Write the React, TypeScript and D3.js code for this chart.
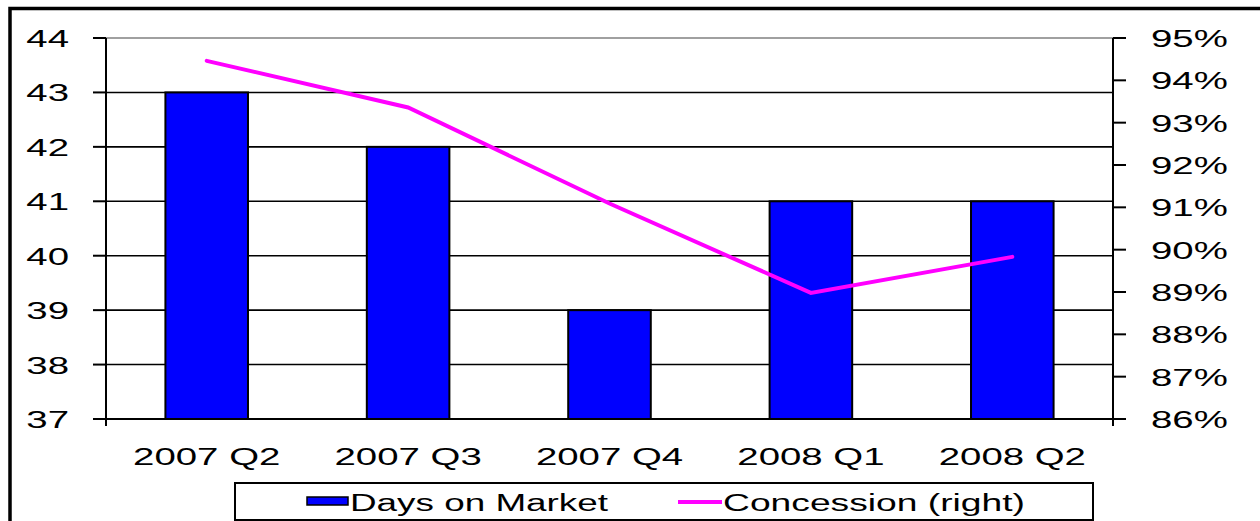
import React, { useEffect, useRef } from 'react'
import * as d3 from 'd3'

const quarters = ['2007 Q2', '2007 Q3', '2007 Q4', '2008 Q1', '2008 Q2']
const daysOnMarket = [43, 42, 39, 41, 41]
const concession = [94.46, 93.36, 91.09, 88.98, 89.83]
const leftTicks = [37, 38, 39, 40, 41, 42, 43, 44]
const rightTicks = [86, 87, 88, 89, 90, 91, 92, 93, 94, 95]
const legendLabels = ['Days on Market', 'Concession (right)']

const FONT = '"Liberation Sans", Arial, sans-serif'
const STRETCH = 1.6

export default function App() {
  const ref = useRef<SVGSVGElement>(null)

  useEffect(() => {
    const svg = d3.select(ref.current)
    svg.selectAll('*').remove()

    const width = 1260, height = 521
    const margin = { top: 38, left: 106, right: 1113, bottom: 419 }

    const x = d3.scaleBand<string>().domain(quarters).range([margin.left, margin.right])
    const yL = d3.scaleLinear().domain([37, 44]).range([margin.bottom, margin.top])
    const yR = d3.scaleLinear().domain([86, 95]).range([margin.bottom, margin.top])
    const barW = x.bandwidth() * 0.41

    svg.attr('width', width).attr('height', height)

    // outer frame
    svg.append('rect')
      .attr('x', 10).attr('y', 8.5).attr('width', 1400).attr('height', 700)
      .attr('fill', 'white').attr('stroke', 'black').attr('stroke-width', 3.5)

    // gridlines
    svg.append('g').selectAll('line')
      .data(leftTicks.slice(1))
      .join('line')
      .attr('x1', margin.left).attr('x2', margin.right)
      .attr('y1', d => yL(d)).attr('y2', d => yL(d))
      .attr('stroke', d => d === 44 ? '#808080' : 'black')
      .attr('stroke-width', 1.6)

    // bars
    svg.append('g').selectAll('rect')
      .data(quarters)
      .join('rect')
      .attr('x', d => x(d)! + (x.bandwidth() - barW) / 2)
      .attr('y', (d, i) => yL(daysOnMarket[i]))
      .attr('width', barW)
      .attr('height', (d, i) => yL(37) - yL(daysOnMarket[i]))
      .attr('fill', '#0000FF')
      .attr('stroke', 'black')
      .attr('stroke-width', 2)

    // axes lines + ticks
    const axes = svg.append('g').attr('stroke', 'black').attr('stroke-width', 2)
    axes.append('line').attr('x1', margin.left).attr('x2', margin.left).attr('y1', margin.top).attr('y2', margin.bottom + 7)
    axes.append('line').attr('x1', margin.right).attr('x2', margin.right).attr('y1', margin.top).attr('y2', margin.bottom + 7)
    axes.append('line').attr('x1', margin.left).attr('x2', margin.right).attr('y1', margin.bottom).attr('y2', margin.bottom)
    axes.selectAll('.tl').data(leftTicks).join('line')
      .attr('x1', margin.left - 13).attr('x2', margin.left)
      .attr('y1', d => yL(d)).attr('y2', d => yL(d))
    axes.selectAll('.tr').data(rightTicks).join('line')
      .attr('x1', margin.right).attr('x2', margin.right + 13)
      .attr('y1', d => yR(d)).attr('y2', d => yR(d))

    // line series
    const line = d3.line<number>()
      .x((d, i) => x(quarters[i])! + x.bandwidth() / 2)
      .y(d => yR(d))
    svg.append('path')
      .datum(concession)
      .attr('d', line)
      .attr('fill', 'none')
      .attr('stroke', '#FF00FF')
      .attr('stroke-width', 4)
      .attr('stroke-linecap', 'round')

    const text = (g: any, tx: number, ty: number, s: string, anchor: string) =>
      g.append('text')
        .attr('transform', `translate(${tx},${ty}) scale(${STRETCH},1)`)
        .attr('text-anchor', anchor)
        .attr('font-family', FONT)
        .attr('font-size', 24)
        .attr('fill', 'black')
        .text(s)

    const labels = svg.append('g')
    leftTicks.forEach(d => text(labels, 69, yL(d) + 9, String(d), 'end'))
    rightTicks.forEach(d => text(labels, 1151, yR(d) + 9, d + '%', 'start'))
    quarters.forEach(d => text(labels, x(d)! + x.bandwidth() / 2, 465, d, 'middle'))

    // legend
    const lg = svg.append('g')
    lg.append('rect')
      .attr('x', 235).attr('y', 483).attr('width', 858).attr('height', 37)
      .attr('fill', 'white').attr('stroke', 'black').attr('stroke-width', 2)
    lg.append('rect')
      .attr('x', 307).attr('y', 497).attr('width', 41).attr('height', 8)
      .attr('fill', '#0000FF').attr('stroke', 'black').attr('stroke-width', 1.5)
    lg.append('line')
      .attr('x1', 678).attr('x2', 722).attr('y1', 502).attr('y2', 502)
      .attr('stroke', '#FF00FF').attr('stroke-width', 4)
    const lt = [[350, 258], [723, 302]]
    legendLabels.forEach((s, i) => {
      lg.append('text')
        .attr('x', lt[i][0]).attr('y', 511)
        .attr('textLength', lt[i][1])
        .attr('lengthAdjust', 'spacingAndGlyphs')
        .attr('font-family', FONT)
        .attr('font-size', 23)
        .attr('fill', 'black')
        .text(s)
    })
  }, [])

  return <svg ref={ref} style={{ position: 'absolute', left: 0, top: 0, display: 'block' }} />
}
